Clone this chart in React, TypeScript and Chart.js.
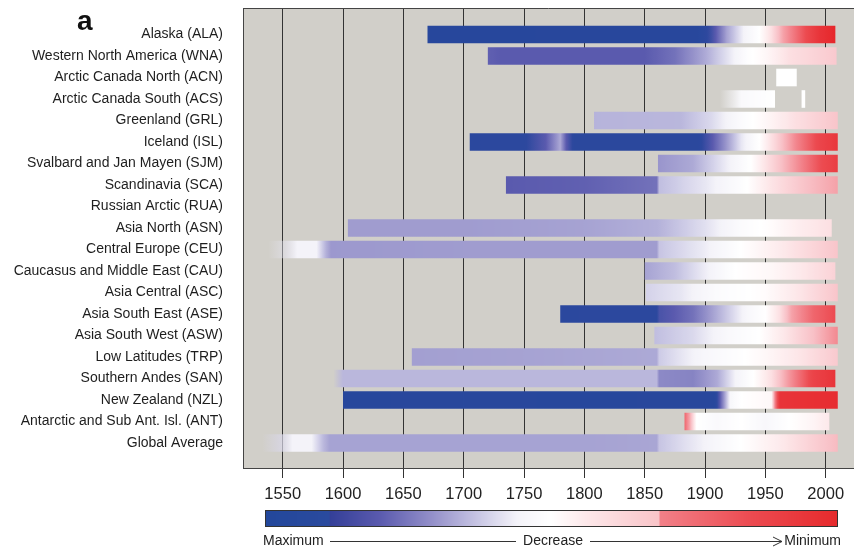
import React, { useEffect, useRef } from 'react';
import { Chart, registerables } from 'chart.js';

Chart.register(...registerables);

// ---------- categories ----------
const regions = [
  'Alaska (ALA)',
  'Western North America (WNA)',
  'Arctic Canada North (ACN)',
  'Arctic Canada South (ACS)',
  'Greenland (GRL)',
  'Iceland (ISL)',
  'Svalbard and Jan Mayen (SJM)',
  'Scandinavia (SCA)',
  'Russian Arctic (RUA)',
  'Asia North (ASN)',
  'Central Europe (CEU)',
  'Caucasus and Middle East (CAU)',
  'Asia Central (ASC)',
  'Asia South East (ASE)',
  'Asia South West (ASW)',
  'Low Latitudes (TRP)',
  'Southern Andes (SAN)',
  'New Zealand (NZL)',
  'Antarctic and Sub Ant. Isl. (ANT)',
  'Global Average',
];

const xTicks = [1550, 1600, 1650, 1700, 1750, 1800, 1850, 1900, 1950, 2000];
const xMin = 1517.1;
const xMax = 2023.45;

// ---------- glacier length profiles: [year, relative decrease 0=max..1=min, opacity] ----------
const ALA = [[1670, 0.05], [1895, 0.06], [1905, 0.15], [1918, 0.32], [1932, 0.44], [1945, 0.5], [1955, 0.58], [1965, 0.7], [1980, 0.82], [1995, 0.94], [2008, 1.0]];
const WNA = [[1720, 0.21], [1730, 0.2], [1850, 0.2], [1875, 0.24], [1900, 0.33], [1920, 0.42], [1935, 0.49], [1950, 0.52], [1970, 0.58], [2009, 0.63]];
const ACN = [[1959, 0.5], [1976, 0.5]];
const ACS = [[1912, 0.45, 0], [1930, 0.47, 1], [1958, 0.5, 1]];
const ACS2 = [[1980, 0.5], [1983, 0.5]];
const GRL = [[1808, 0.345], [1880, 0.35], [1905, 0.4], [1930, 0.48], [1950, 0.52], [1975, 0.58], [2010, 0.64]];
const ISL = [[1705, 0.1], [1750, 0.11], [1768, 0.2], [1780, 0.33], [1785, 0.2], [1792, 0.09], [1895, 0.1], [1912, 0.25], [1930, 0.42], [1945, 0.5], [1958, 0.6], [1975, 0.74], [1995, 0.87], [2010, 0.93]];
const SJM = [[1861, 0.3], [1890, 0.33], [1915, 0.42], [1938, 0.5], [1955, 0.6], [1975, 0.72], [1995, 0.84], [2010, 0.9]];
const SCA = [[1735, 0.2], [1800, 0.21], [1860, 0.24], [1862, 0.36], [1900, 0.42], [1935, 0.5], [1955, 0.57], [1985, 0.65], [2010, 0.7]];
const ASN = [[1604, 0.31], [1700, 0.31], [1800, 0.32], [1860, 0.34], [1900, 0.41], [1930, 0.48], [1955, 0.51], [1980, 0.55], [2005, 0.58]];
const CEU = [[1538, 0.42, 0], [1552, 0.42, 0.5], [1562, 0.44, 1], [1578, 0.44, 1], [1586, 0.34, 1], [1590, 0.305, 1], [1700, 0.31], [1800, 0.31], [1860, 0.31], [1862, 0.37], [1900, 0.43], [1930, 0.5], [1960, 0.55], [2010, 0.64]];
const CAU = [[1850, 0.32], [1875, 0.36], [1900, 0.43], [1925, 0.5], [1955, 0.52], [1980, 0.56], [2008, 0.61]];
const ASC = [[1851, 0.39], [1880, 0.42], [1910, 0.48], [1950, 0.51], [1980, 0.57], [2010, 0.64]];
const ASE = [[1780, 0.1], [1860, 0.11], [1862, 0.17], [1890, 0.24], [1915, 0.36], [1935, 0.46], [1950, 0.5], [1962, 0.58], [1972, 0.7], [1990, 0.8], [2008, 0.85]];
const ASW = [[1858, 0.36], [1890, 0.4], [1920, 0.47], [1945, 0.5], [1965, 0.56], [1990, 0.65], [2010, 0.74]];
const TRP = [[1657, 0.315], [1750, 0.32], [1860, 0.33], [1862, 0.38], [1900, 0.46], [1950, 0.52], [1980, 0.57], [2010, 0.63]];
const SAN = [[1592, 0.35, 0], [1600, 0.35, 1], [1700, 0.35], [1800, 0.35], [1860, 0.35], [1862, 0.28], [1890, 0.27], [1910, 0.33], [1925, 0.44], [1940, 0.5], [1955, 0.58], [1970, 0.72], [1990, 0.88], [2008, 0.94]];
const NZL = [[1600, 0.05], [1700, 0.06], [1800, 0.05], [1908, 0.06], [1914, 0.25], [1921, 0.46], [1930, 0.5], [1955, 0.52], [1958, 0.75], [1962, 0.94], [1990, 0.96], [2010, 0.97]];
const ANT = [[1883, 0.8], [1887, 0.7], [1893, 0.5], [1910, 0.47], [1930, 0.5], [1950, 0.46], [1970, 0.5], [1990, 0.53], [2003, 0.56]];
const GLB = [[1533, 0.4, 0], [1548, 0.4, 0.6], [1558, 0.44, 1], [1574, 0.44, 1], [1584, 0.35, 1], [1589, 0.32, 1], [1700, 0.32], [1800, 0.32], [1860, 0.325], [1862, 0.37], [1900, 0.44], [1930, 0.5], [1960, 0.55], [2010, 0.66]];

const profiles: (number[][] | null)[] = [ALA, WNA, ACN, ACS, GRL, ISL, SJM, SCA, null, ASN, CEU, CAU, ASC, ASE, ASW, TRP, SAN, NZL, ANT, GLB];
const extraRows = [3];
const extraProfiles = [ACS2];

// ---------- colour scales (Maximum -> Decrease -> Minimum) ----------
// legend bar (with its visible steps)
const legendT = [0, 0.112, 0.114, 0.2, 0.3, 0.38, 0.44, 0.5, 0.56, 0.687, 0.69, 0.85, 1];
const legendRGB = [
  [35, 71, 155], [42, 74, 158], [52, 63, 152], [90, 90, 174], [153, 149, 204], [205, 203, 230],
  [244, 243, 249], [255, 255, 255], [253, 232, 234], [249, 196, 200], [242, 128, 136], [236, 74, 80], [230, 42, 44],
];
// smooth version used for the bars
const barT = [0, 0.12, 0.2, 0.3, 0.38, 0.44, 0.5, 0.56, 0.65, 0.75, 0.85, 1];
const barRGB = [
  [35, 71, 155], [45, 72, 158], [90, 90, 174], [153, 149, 204], [205, 203, 230], [244, 243, 249],
  [255, 255, 255], [253, 232, 234], [248, 192, 198], [242, 130, 138], [236, 74, 80], [230, 38, 42],
];

function interpColor(ts: number[], cs: number[][], t: number): number[] {
  const v = Math.max(0, Math.min(1, t));
  for (let i = 1; i < ts.length; i++) {
    if (v <= ts[i]) {
      const f = (v - ts[i - 1]) / (ts[i] - ts[i - 1]);
      return cs[i].map((c, k) => Math.round(cs[i - 1][k] + (c - cs[i - 1][k]) * f));
    }
  }
  return cs[cs.length - 1];
}

function sample(prof: number[][], yr: number): number[] {
  const alpha = (p: number[]) => (p.length > 2 ? p[2] : 1);
  if (yr <= prof[0][0]) return [prof[0][1], alpha(prof[0])];
  for (let i = 1; i < prof.length; i++) {
    if (yr <= prof[i][0]) {
      const f = (yr - prof[i - 1][0]) / (prof[i][0] - prof[i - 1][0]);
      return [
        prof[i - 1][1] + (prof[i][1] - prof[i - 1][1]) * f,
        alpha(prof[i - 1]) + (alpha(prof[i]) - alpha(prof[i - 1])) * f,
      ];
    }
  }
  const last = prof[prof.length - 1];
  return [last[1], alpha(last)];
}

function gradientFor(chart: any, prof: number[][]) {
  const xs = chart.scales.x;
  const y0 = prof[0][0];
  const y1 = prof[prof.length - 1][0];
  const p0 = xs.getPixelForValue(y0);
  const p1 = xs.getPixelForValue(y1);
  const g = chart.ctx.createLinearGradient(p0, 0, p1, 0);
  const n = Math.max(2, Math.ceil(y1 - y0));
  for (let k = 0; k <= n; k++) {
    const yr = y0 + ((y1 - y0) * k) / n;
    const [t, a] = sample(prof, yr);
    const [r, gg, b] = interpColor(barT, barRGB, t);
    g.addColorStop(k / n, `rgba(${r},${gg},${b},${a})`);
  }
  return g;
}

const mainRows = profiles.map((p, i) => (p ? i : -1)).filter((i) => i >= 0);

const decorPlugin = {
  id: 'decor',
  beforeDraw(chart: any) {
    const { ctx, chartArea: a } = chart;
    ctx.save();
    ctx.fillStyle = '#d1cfc9';
    ctx.fillRect(a.left, a.top, a.right - a.left, a.bottom - a.top);
    ctx.restore();
  },
  afterDraw(chart: any) {
    const { ctx, chartArea: a } = chart;
    ctx.save();
    // top frame line
    ctx.strokeStyle = '#444';
    ctx.lineWidth = 1;
    ctx.beginPath();
    ctx.moveTo(a.left, a.top + 0.5);
    ctx.lineTo(a.right, a.top + 0.5);
    ctx.stroke();

    // panel letter
    ctx.fillStyle = '#111';
    ctx.font = 'bold 28px "Liberation Sans", Arial, sans-serif';
    ctx.textBaseline = 'alphabetic';
    ctx.textAlign = 'left';
    ctx.fillText('a', 77, 30);

    // colour bar
    const cx0 = 265, cx1 = 838, cy0 = 510, cy1 = 527;
    for (let x = cx0; x < cx1; x++) {
      const [r, g, b] = interpColor(legendT, legendRGB, (x + 0.5 - cx0) / (cx1 - cx0));
      ctx.fillStyle = `rgb(${r},${g},${b})`;
      ctx.fillRect(x, cy0, 1, cy1 - cy0);
    }
    ctx.strokeStyle = '#333';
    ctx.strokeRect(cx0 + 0.5, cy0 + 0.5, cx1 - cx0 - 1, cy1 - cy0 - 1);

    // labels under the bar
    const ly = 541.5;
    ctx.fillStyle = '#222';
    ctx.font = '14px "Liberation Sans", Arial, sans-serif';
    ctx.textBaseline = 'middle';
    ctx.textAlign = 'left';
    ctx.fillText('Maximum', 263, ly);
    ctx.textAlign = 'center';
    ctx.fillText('Decrease', 553, ly);
    ctx.textAlign = 'right';
    ctx.fillText('Minimum', 841, ly);
    ctx.strokeStyle = '#333';
    ctx.beginPath();
    ctx.moveTo(330, ly);
    ctx.lineTo(516, ly);
    ctx.moveTo(590, ly);
    ctx.lineTo(782, ly);
    ctx.moveTo(773, ly - 4.5);
    ctx.lineTo(782, ly);
    ctx.lineTo(773, ly + 4.5);
    ctx.stroke();
    ctx.restore();
  },
};

export default function App() {
  const ref = useRef<HTMLCanvasElement | null>(null);

  useEffect(() => {
    if (!ref.current) return;
    const chart = new Chart(ref.current, {
      type: 'bar',
      data: {
        datasets: [
          {
            data: mainRows.map((i) => {
              const p = profiles[i] as number[][];
              return { x: [p[0][0], p[p.length - 1][0]], y: i };
            }),
            backgroundColor: (c: any) => {
              if (c.type !== 'data' || !c.chart.chartArea) return 'transparent';
              return gradientFor(c.chart, profiles[mainRows[c.dataIndex]] as number[][]);
            },
            borderWidth: 0,
            borderSkipped: false,
            grouped: false,
            barPercentage: 0.82,
            categoryPercentage: 1,
          } as any,
          {
            data: extraRows.map((row, k) => {
              const p = extraProfiles[k];
              return { x: [p[0][0], p[p.length - 1][0]], y: row };
            }),
            backgroundColor: (c: any) => {
              if (c.type !== 'data' || !c.chart.chartArea) return 'transparent';
              return gradientFor(c.chart, extraProfiles[c.dataIndex]);
            },
            borderWidth: 0,
            borderSkipped: false,
            grouped: false,
            barPercentage: 0.82,
            categoryPercentage: 1,
          } as any,
        ],
      },
      options: {
        indexAxis: 'y',
        responsive: false,
        animation: false,
        events: [],
        layout: { padding: { top: 8, left: 0, right: 0, bottom: 0 } },
        plugins: { legend: { display: false }, tooltip: { enabled: false }, title: { display: false } },
        scales: {
          x: {
            type: 'linear',
            position: 'bottom',
            min: xMin,
            max: xMax,
            offset: false,
            afterBuildTicks: (s: any) => {
              s.ticks = xTicks.map((v) => ({ value: v }));
            },
            afterFit: (s: any) => {
              s.height = 83;
              s.paddingLeft = 0;
              s.paddingRight = 0;
            },
            ticks: {
              autoSkip: false,
              maxRotation: 0,
              padding: 7,
              color: '#222',
              font: { family: '"Liberation Sans", Arial, sans-serif', size: 16.5 },
              callback: (v: any) => String(v),
            },
            grid: { color: '#333', lineWidth: 1, tickLength: 10, drawTicks: true, drawOnChartArea: true },
            border: { display: true, color: '#444', width: 1 },
          },
          y: {
            type: 'linear',
            reverse: true,
            offset: false,
            min: -1.2326,
            max: 20.163,
            afterBuildTicks: (s: any) => {
              s.ticks = regions.map((_, i) => ({ value: i }));
            },
            afterFit: (s: any) => {
              s.width = 243;
              s.paddingTop = 0;
              s.paddingBottom = 0;
            },
            ticks: {
              autoSkip: false,
              padding: 20,
              color: '#1e1e1e',
              font: { family: '"Liberation Sans", Arial, sans-serif', size: 14 },
              callback: (v: any) => regions[v] ?? '',
            },
            grid: { display: false, drawTicks: false },
            border: { display: true, color: '#444', width: 1 },
          },
        },
      } as any,
      plugins: [decorPlugin],
    });
    return () => chart.destroy();
  }, []);

  return (
    <div style={{ position: 'absolute', left: 0, top: 0, width: 854, height: 551, background: '#fff' }}>
      <canvas ref={ref} width={854} height={551} style={{ display: 'block' }} />
    </div>
  );
}
